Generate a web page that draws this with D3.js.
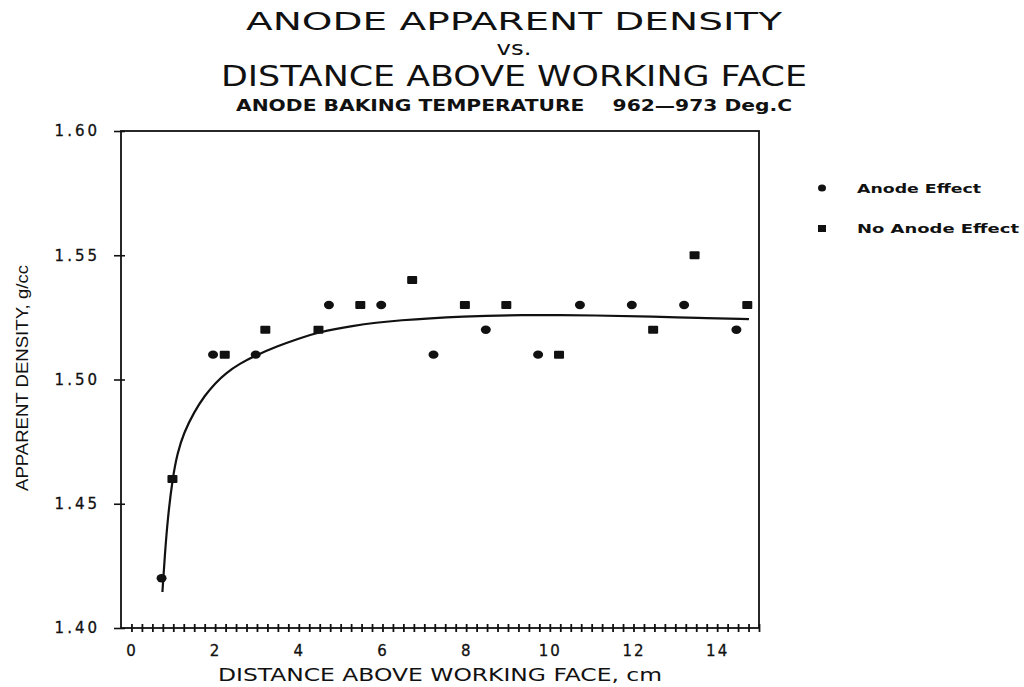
<!DOCTYPE html>
<html lang="en">
<head>
<meta charset="utf-8">
<title>Anode apparent density</title>
<script src="https://cdn.jsdelivr.net/npm/d3@7"></script>
<style>
  body { margin: 0; background: #fff; }
  text { fill: #111; }
</style>
</head>
<body>
<script>
// data
var anodeX = [0.72, 1.95, 2.97, 4.72, 5.97, 7.22, 8.47, 9.72, 10.72, 11.96, 13.21, 14.46];
var anodeY = [1.42, 1.51, 1.51, 1.53, 1.53, 1.51, 1.52, 1.51, 1.53, 1.53, 1.53, 1.52];
var noAnodeX = [0.98, 2.23, 3.2, 4.47, 5.47, 6.71, 7.97, 8.96, 10.22, 12.47, 13.46, 14.72];
var noAnodeY = [1.46, 1.51, 1.52, 1.52, 1.53, 1.54, 1.53, 1.53, 1.51, 1.52, 1.55, 1.53];
// fitted curve, traced
var fitX = [0.74, 0.80, 0.87, 0.98, 1.1, 1.25, 1.5, 1.75, 2.0, 2.25, 2.6, 2.97, 3.5, 4.0, 4.47, 5.2, 6.4, 8.0, 9.2, 11.2, 12.5, 13.5, 14.76];
var fitY = [1.4145, 1.430, 1.4445, 1.460, 1.4705, 1.4785, 1.4870, 1.4935, 1.4985, 1.5025, 1.5065, 1.5097, 1.5135, 1.5165, 1.5190, 1.5215, 1.5240, 1.5255, 1.5260, 1.5258, 1.5253, 1.5248, 1.5243];
var xLabels = [0, 2, 4, 6, 8, 10, 12, 14];
var yLabels = [1.40, 1.45, 1.50, 1.55, 1.60];

var w = 1024, h = 687;
var svg = d3.select("body").append("svg")
    .attr("width", w).attr("height", h);

var x = d3.scaleLinear().domain([-0.25, 15]).range([121, 759]);
var y = d3.scaleLinear().domain([1.40, 1.60]).range([628, 131]);

// titles
var titles = [
  {t: "ANODE APPARENT DENSITY", y: 30, size: 25, len: 536, weight: "normal"},
  {t: "vs.", y: 55, size: 20, len: 35, weight: "normal"},
  {t: "DISTANCE ABOVE WORKING FACE", y: 86, size: 28, len: 586, weight: "normal"},
  {t: "ANODE BAKING TEMPERATURE    962\u2014973 Deg.C", y: 111, size: 16, len: 556, weight: "bold"}
];
svg.selectAll("text.title")
    .data(titles)
    .enter()
    .append("text")
    .attr("class", "title")
    .attr("x", 514)
    .attr("y", function (d) { return d.y; })
    .attr("text-anchor", "middle")
    .attr("font-family", "DejaVu Sans")
    .attr("font-size", function (d) { return d.size + "px"; })
    .attr("font-weight", function (d) { return d.weight; })
    .attr("textLength", function (d) { return d.len; })
    .attr("lengthAdjust", "spacingAndGlyphs")
    .style("white-space", "pre")
    .text(function (d) { return d.t; });

// x axis: minor "+" ticks every 0.25
var minor = d3.range(0, 15.001, 0.25);
var gx = svg.append("g")
    .attr("transform", "translate(0," + y(1.40) + ")")
    .call(d3.axisBottom(x).tickValues(minor).tickSize(4).tickFormat(""));
gx.selectAll(".tick line").attr("y1", -4).attr("y2", 4).attr("stroke", "#111").attr("stroke-width", 1.8);
gx.select(".domain").remove();

var gxl = svg.append("g")
    .attr("transform", "translate(0," + y(1.40) + ")")
    .call(d3.axisBottom(x).tickValues(xLabels).tickSize(0).tickPadding(17).tickFormat(d3.format("d")));
gxl.select(".domain").remove();
gxl.selectAll("text")
    .attr("font-family", "DejaVu Sans")
    .attr("font-size", "15px")
    .attr("letter-spacing", "2px")
    .attr("stroke", "#111").attr("stroke-width", 0.3)
    .attr("fill", "#111");

// y axis
var gy = svg.append("g")
    .attr("transform", "translate(" + x(-0.25) + ",0)")
    .call(d3.axisLeft(y).tickValues(yLabels).tickSize(7).tickPadding(14).tickFormat(d3.format(".2f")));
gy.select(".domain").remove();
gy.selectAll(".tick line").attr("x2", -7).attr("x1", 4).attr("stroke", "#111").attr("stroke-width", 1.6);
gy.selectAll("text")
    .attr("font-family", "DejaVu Sans")
    .attr("font-size", "15px")
    .attr("letter-spacing", "3px")
    .attr("stroke", "#111").attr("stroke-width", 0.3)
    .attr("fill", "#111");

// frame
svg.append("rect")
    .attr("x", x(-0.25)).attr("y", y(1.60))
    .attr("width", x(15) - x(-0.25)).attr("height", y(1.40) - y(1.60))
    .attr("fill", "none").attr("stroke", "#111").attr("stroke-width", 1.8);

// axis titles
svg.append("text")
    .attr("x", 440).attr("y", 681)
    .attr("text-anchor", "middle")
    .attr("font-family", "DejaVu Sans")
    .attr("font-size", "17px")
    .attr("textLength", 444)
    .attr("lengthAdjust", "spacingAndGlyphs")
    .text("DISTANCE ABOVE WORKING FACE, cm");

svg.append("text")
    .attr("transform", "translate(28,378) rotate(-90)")
    .attr("text-anchor", "middle")
    .attr("font-family", "Liberation Sans Narrow, Liberation Sans")
    .attr("font-size", "17px")
    .attr("textLength", 226)
    .attr("lengthAdjust", "spacingAndGlyphs")
    .text("APPARENT DENSITY, g/cc");

// fitted curve
var line = d3.line()
    .x(function (d) { return x(d[0]); })
    .y(function (d) { return y(d[1]); })
    .curve(d3.curveBasis);
svg.append("path")
    .datum(d3.zip(fitX, fitY))
    .attr("d", line)
    .attr("fill", "none")
    .attr("stroke", "#111")
    .attr("stroke-width", 2.2);

// points
svg.selectAll("ellipse.anode")
    .data(d3.zip(anodeX, anodeY))
    .enter()
    .append("ellipse")
    .attr("class", "anode")
    .attr("cx", function (d) { return x(d[0]); })
    .attr("cy", function (d) { return y(d[1]); })
    .attr("rx", 5).attr("ry", 4.2)
    .attr("fill", "#111");

svg.selectAll("rect.noanode")
    .data(d3.zip(noAnodeX, noAnodeY))
    .enter()
    .append("rect")
    .attr("class", "noanode")
    .attr("x", function (d) { return x(d[0]) - 5; })
    .attr("y", function (d) { return y(d[1]) - 4; })
    .attr("width", 10).attr("height", 8)
    .attr("rx", 1)
    .attr("fill", "#111");

// legend
var legend = [
  {name: "Anode Effect", shape: "circle", y: 188},
  {name: "No Anode Effect", shape: "square", y: 228}
];
var lg = svg.selectAll("g.legend")
    .data(legend)
    .enter()
    .append("g")
    .attr("class", "legend")
    .attr("transform", function (d) { return "translate(822," + d.y + ")"; });
lg.filter(function (d) { return d.shape === "circle"; })
    .append("ellipse").attr("rx", 4).attr("ry", 3.5).attr("fill", "#111");
lg.filter(function (d) { return d.shape === "square"; })
    .append("rect").attr("x", -4).attr("y", -3).attr("width", 8).attr("height", 7).attr("fill", "#111");
lg.append("text")
    .attr("x", 35).attr("y", 5)
    .attr("font-family", "DejaVu Sans")
    .attr("font-size", "13px")
    .attr("font-weight", "bold")
    .attr("textLength", function (d) { return d.shape === "circle" ? 124 : 162; })
    .attr("lengthAdjust", "spacingAndGlyphs")
    .text(function (d) { return d.name; });
</script>
</body>
</html>
